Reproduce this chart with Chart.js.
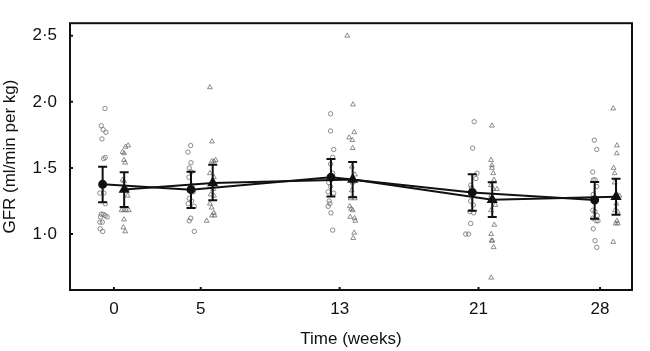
<!DOCTYPE html>
<html>
<head>
<meta charset="utf-8">
<script src="https://cdn.jsdelivr.net/npm/chart.js@4.4.0/dist/chart.umd.min.js"></script>
<style>
  body { margin: 0; background: #fff; }
  #wrap { width: 650px; height: 351px; }
</style>
</head>
<body>
<div id="wrap"><canvas id="gfr" width="650" height="351"></canvas></div>
<script>
// time points (weeks) and y tick labels
const weeks = [0, 5, 13, 21, 28];
const yTicks = [1.0, 1.5, 2.0, 2.5];

// individual animals, group 1 (open circles) - [week + jitter, GFR]
const circlePts = [
  [-0.52,1.95],[-0.73,1.82],[-0.62,1.79],[-0.46,1.77],[-0.69,1.72],[-0.50,1.58],[-0.59,1.57],
  [-0.67,1.39],[-0.55,1.37],[-0.81,1.31],[-0.58,1.31],[-0.50,1.23],[-0.62,1.15],[-0.73,1.15],
  [-0.50,1.14],[-0.39,1.13],[-0.77,1.13],[-0.81,1.09],[-0.67,1.09],[-0.79,1.04],[-0.65,1.02],
  [4.42,1.67],[4.26,1.62],[4.44,1.54],[4.34,1.50],[4.45,1.47],[4.32,1.43],[4.49,1.37],[4.57,1.32],
  [4.34,1.27],[4.48,1.25],[4.28,1.23],[4.63,1.21],[4.42,1.12],[4.34,1.10],[4.63,1.02],
  [12.48,1.91],[12.48,1.78],[12.66,1.64],[12.60,1.58],[12.48,1.53],[12.60,1.46],[12.37,1.39],
  [12.48,1.36],[12.34,1.32],[12.66,1.31],[12.40,1.25],[12.34,1.21],[12.44,1.23],[12.50,1.16],[12.60,1.03],
  [20.75,1.85],[20.66,1.65],[20.91,1.46],[20.85,1.42],[20.55,1.37],[20.60,1.35],[20.72,1.32],
  [20.55,1.25],[20.70,1.22],[20.51,1.17],[20.72,1.16],[20.55,1.08],[20.26,1.00],[20.43,1.00],
  [27.67,1.71],[27.81,1.64],[27.58,1.47],[27.61,1.41],[27.71,1.41],[27.81,1.36],[27.61,1.30],
  [27.58,1.18],[27.71,1.17],[27.84,1.14],[27.58,1.12],[27.77,1.10],[27.88,1.10],[27.61,1.04],
  [27.71,0.95],[27.81,0.90]
];

// individual animals, group 2 (open triangles)
const trianglePts = [
  [0.82,1.67],[0.67,1.66],[0.50,1.62],[0.59,1.61],[0.58,1.56],[0.65,1.54],[0.50,1.41],[0.59,1.40],
  [0.73,1.34],[0.54,1.33],[0.79,1.29],[0.44,1.18],[0.58,1.18],[0.71,1.18],[0.86,1.18],[0.58,1.11],
  [0.54,1.05],[0.65,1.02],
  [5.53,2.11],[5.65,1.70],[5.63,1.55],[5.76,1.55],[5.86,1.56],[5.53,1.46],[5.76,1.43],[5.72,1.34],
  [5.57,1.30],[5.76,1.29],[5.53,1.23],[5.63,1.20],[5.76,1.16],[5.65,1.14],[5.79,1.14],[5.34,1.10],
  [13.44,2.50],[13.77,1.98],[13.84,1.77],[13.55,1.73],[13.73,1.71],[13.75,1.65],[13.71,1.51],
  [13.88,1.45],[13.75,1.39],[13.69,1.33],[13.88,1.27],[13.63,1.27],[13.59,1.21],[13.67,1.19],
  [13.75,1.18],[13.61,1.13],[13.86,1.12],[13.90,1.10],[13.84,1.01],[13.78,0.97],
  [21.77,1.82],[21.72,1.56],[21.77,1.52],[21.77,1.50],[21.85,1.46],[21.89,1.41],[21.72,1.37],
  [21.85,1.34],[22.06,1.34],[21.72,1.29],[21.97,1.22],[21.72,1.18],[21.91,1.07],[21.73,1.00],
  [21.75,0.95],[21.80,0.95],[21.87,0.90],[21.73,0.67],
  [28.76,1.95],[28.97,1.67],[28.96,1.61],[28.78,1.50],[28.84,1.46],[28.84,1.39],[28.97,1.30],
  [29.12,1.29],[28.94,1.23],[28.86,1.18],[29.01,1.17],[28.97,1.10],[29.02,1.08],[28.90,1.08],[28.76,0.94]
];

// group means with error bars
const circleMeanX = [-0.65, 4.44, 12.50, 20.64, 27.69];
const circleMean  = [1.376, 1.336, 1.429, 1.315, 1.258];
const circleUpper = [1.510, 1.471, 1.568, 1.453, 1.394];
const circleLower = [1.241, 1.197, 1.285, 1.176, 1.116];

const triMeanX = [0.59, 5.69, 13.75, 21.79, 28.92];
const triMean  = [1.338, 1.387, 1.413, 1.260, 1.283];
const triUpper = [1.467, 1.524, 1.545, 1.392, 1.418];
const triLower = [1.204, 1.255, 1.279, 1.130, 1.146];

const font = { family: "'Liberation Sans', Arial, sans-serif", size: 17 };
const ink = "#111";

const toXY = arr => arr.map(p => ({ x: p[0], y: p[1] }));
const meanXY = (xs, ys) => xs.map((x, i) => ({ x: x, y: ys[i] }));

// error bars, frame and inward tick marks
const extras = {
  id: "extras",
  afterDatasetsDraw(chart) {
    const ctx = chart.ctx, xs = chart.scales.x, ys = chart.scales.y;
    ctx.save();
    ctx.strokeStyle = ink;
    ctx.lineWidth = 2;
    [[circleMeanX, circleLower, circleUpper], [triMeanX, triLower, triUpper]].forEach(g => {
      g[0].forEach((x, i) => {
        const px = xs.getPixelForValue(x);
        const top = ys.getPixelForValue(g[2][i]);
        const bot = ys.getPixelForValue(g[1][i]);
        ctx.beginPath();
        ctx.moveTo(px, top); ctx.lineTo(px, bot);
        ctx.moveTo(px - 4.5, top); ctx.lineTo(px + 4.5, top);
        ctx.moveTo(px - 4.5, bot); ctx.lineTo(px + 4.5, bot);
        ctx.stroke();
      });
    });
    ctx.restore();
  },
  afterDraw(chart) {
    const ctx = chart.ctx, a = chart.chartArea;
    ctx.save();
    ctx.strokeStyle = ink;
    ctx.lineWidth = 2;
    ctx.strokeRect(a.left, a.top, a.right - a.left, a.bottom - a.top);
    ctx.beginPath();
    weeks.forEach(w => {
      const px = chart.scales.x.getPixelForValue(w);
      ctx.moveTo(px, a.bottom); ctx.lineTo(px, a.bottom - 3);
    });
    yTicks.forEach(v => {
      const py = chart.scales.y.getPixelForValue(v);
      ctx.moveTo(a.left, py); ctx.lineTo(a.left + 3, py);
    });
    ctx.stroke();
    ctx.restore();
  }
};

new Chart(document.getElementById("gfr"), {
  data: {
    datasets: [
      {
        type: "scatter", data: toXY(circlePts), order: 3,
        pointStyle: "circle", pointRadius: 2.2, borderWidth: 0.8,
        borderColor: "#707070", backgroundColor: "rgba(255,255,255,0)"
      },
      {
        type: "scatter", data: toXY(trianglePts), order: 3,
        pointStyle: "triangle", pointRadius: 2.8, borderWidth: 0.8,
        borderColor: "#707070", backgroundColor: "rgba(255,255,255,0)"
      },
      {
        type: "line", data: meanXY(circleMeanX, circleMean), order: 1,
        borderColor: ink, borderWidth: 2, pointStyle: "circle", pointRadius: 3.5,
        pointBackgroundColor: ink, pointBorderColor: ink, tension: 0
      },
      {
        type: "line", data: meanXY(triMeanX, triMean), order: 1,
        borderColor: ink, borderWidth: 2, pointStyle: "triangle", pointRadius: 4.5,
        pointBackgroundColor: ink, pointBorderColor: ink, tension: 0
      }
    ]
  },
  options: {
    responsive: false,
    animation: false,
    devicePixelRatio: 1,
    layout: { padding: { top: 1, right: 18, left: 0, bottom: 0 } },
    plugins: { legend: { display: false }, tooltip: { enabled: false } },
    scales: {
      x: {
        type: "linear", min: -2.53, max: 29.84,
        afterBuildTicks: s => { s.ticks = weeks.map(v => ({ value: v })); },
        afterFit: s => { s.height = 61; },
        grid: { display: false, drawTicks: false },
        border: { display: false },
        ticks: { font: font, color: ink, padding: 9, maxRotation: 0 },
        title: { display: true, text: "Time (weeks)", font: font, color: ink, padding: { top: 4, bottom: 1 } }
      },
      y: {
        type: "linear", min: 0.577, max: 2.595,
        afterBuildTicks: s => { s.ticks = yTicks.map(v => ({ value: v })); },
        afterFit: s => { s.width = 70; },
        grid: { display: false, drawTicks: false },
        border: { display: false },
        ticks: {
          font: font, color: ink, padding: 13,
          callback: v => v.toFixed(1).replace(".", "\u00B7")
        },
        title: { display: true, text: "GFR (ml/min per kg)", font: font, color: ink, padding: { top: 0, bottom: 0 } }
      }
    }
  },
  plugins: [extras]
});
</script>
</body>
</html>
